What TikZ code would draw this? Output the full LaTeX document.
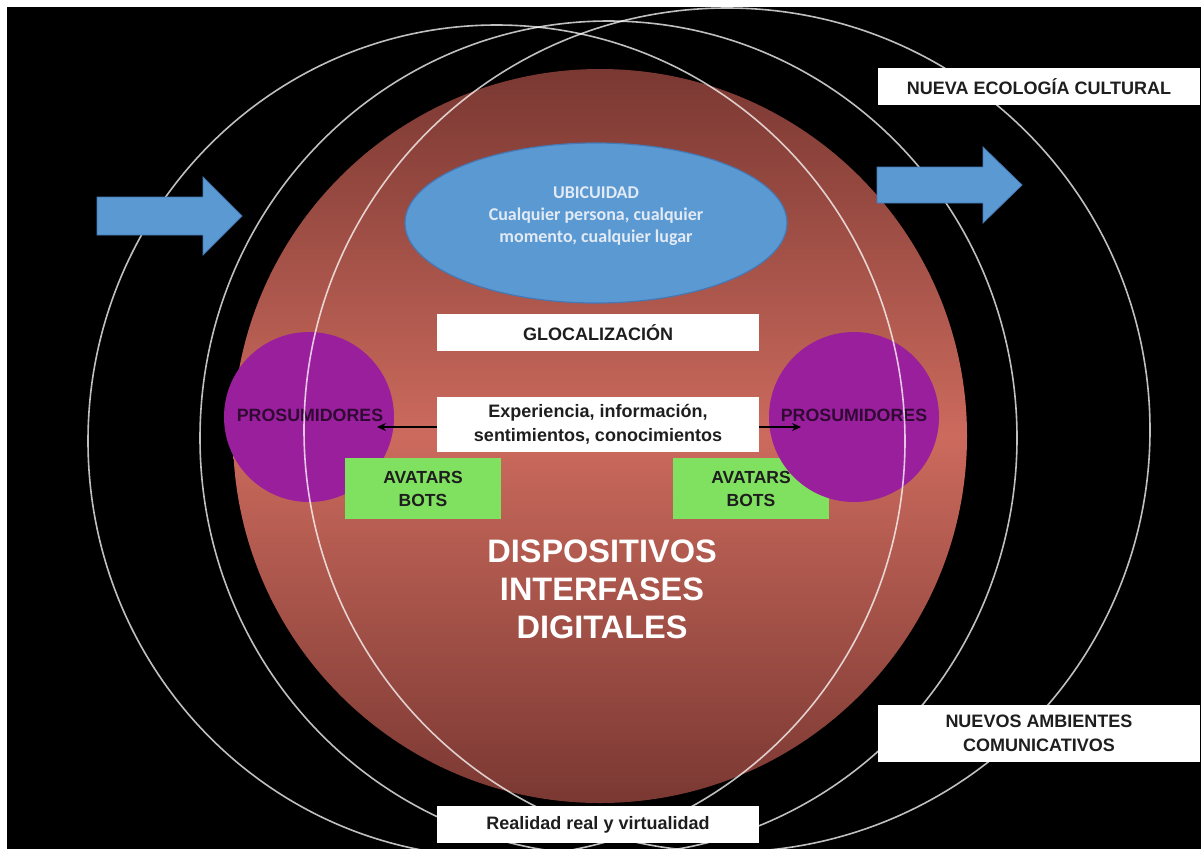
\documentclass[tikz,border=0pt]{standalone}
\usepackage{fontspec}
\setmainfont{Liberation Sans}
\newfontfamily\calib{Carlito}
\usetikzlibrary{shapes.geometric,arrows.meta}
\definecolor{sphdark}{RGB}{122,56,50}
\definecolor{sphlight}{RGB}{204,106,93}
\definecolor{bluefill}{RGB}{91,153,211}
\definecolor{blueedge}{RGB}{70,120,180}
\definecolor{ubtext}{RGB}{226,234,244}
\definecolor{purp}{RGB}{154,31,156}
\definecolor{grn}{RGB}{128,224,96}
\definecolor{boxtext}{RGB}{30,30,30}
\definecolor{prostext}{RGB}{48,10,52}
\begin{document}
\begin{tikzpicture}[x=1pt,y=-1pt,
  wbox/.style={fill=white, draw=none, inner sep=0pt, minimum width=322pt, align=center,
    text=boxtext, font=\bfseries\fontsize{18}{23.5}\selectfont},
  gbox/.style={fill=grn, draw=none, inner sep=0pt, minimum width=156pt, minimum height=61pt,
    align=center, text=boxtext, font=\bfseries\fontsize{17.5}{23}\selectfont},
  pcirc/.style={circle, fill=purp, draw=none, minimum size=170pt, inner sep=0pt},
  ptext/.style={text=prostext, font=\bfseries\fontsize{17.8}{20}\selectfont, inner sep=0pt},
  ring/.style={draw=white, draw opacity=0.75, line width=1.6pt},
  barrow/.style={fill=bluefill, draw=blueedge, line width=0.8pt},
  conn/.style={draw=black, line width=1.2pt, -{Stealth[length=9pt,width=8pt]}}
]
\useasboundingbox (0,0) rectangle (1204,852);
\fill[white] (0,0) rectangle (1204,852);
\fill[black] (7,7) rectangle (1201,849);
% sphere
\shade[top color=sphdark, bottom color=sphdark, middle color=sphlight]
  (600,436) circle[radius=367];
% ubiquity ellipse
\node[ellipse, fill=bluefill, draw=blueedge, line width=1.2pt, minimum width=382pt,
  minimum height=160pt, inner sep=0pt] (ubi) at (596,223) {};
\node[text=ubtext, align=center, font=\calib\bfseries\fontsize{18}{22}\selectfont]
  (ubitext) at (596,216) {UBICUIDAD\\Cualquier persona, cualquier\\momento, cualquier lugar};
% prosumers and avatars
\node[pcirc] (lp) at (309,417) {};
\node[ptext] (lptext) at (310,415) {PROSUMIDORES};
\node[gbox] (lg) at (423,488.5) {AVATARS\\BOTS};
\node[gbox] (rg) at (751,488.5) {};
\node[pcirc] (rp) at (854,417) {};
\node[ptext] (rptext) at (854,415) {PROSUMIDORES};
\node[align=center, text=boxtext, font=\bfseries\fontsize{17.5}{23}\selectfont]
  (rgtext) at (rg.center) {AVATARS\\BOTS};
% main title
\node[align=center, text=white, font=\bfseries\fontsize{32.5}{38}\selectfont]
  (title) at (602,589) {DISPOSITIVOS\\INTERFASES\\DIGITALES};
% rings
\draw[ring] (496.5,441) ellipse[x radius=408.5, y radius=416];
\draw[ring] (608.5,438) ellipse[x radius=408.5, y radius=417];
\draw[ring] (727,430) ellipse[x radius=423, y radius=422];
% white boxes
\node[wbox, minimum height=37pt] (glo) at (598,332.5) {GLOCALIZACIÓN};
\node[wbox, minimum height=55pt] (exp) at (598,424.5) {Experiencia, información,\\sentimientos, conocimientos};
\node[wbox, minimum height=37pt] (rea) at (598,824.5) {Realidad real y virtualidad};
\node[wbox, minimum height=37pt] (nec) at (1039,86.5) {NUEVA ECOLOGÍA CULTURAL};
\node[wbox, minimum height=57pt] (nam) at (1039,733.5) {NUEVOS AMBIENTES\\COMUNICATIVOS};
% connectors
\coordinate (ltip) at (377,427);
\coordinate (rtip) at (801,427);
\draw[conn] (exp.west |- ltip) -- (ltip);
\draw[conn] (exp.east |- rtip) -- (rtip);
% blue arrows
\draw[barrow] (97,197) -- (203,197) -- (203,177) -- (242,216) -- (203,255) -- (203,235) -- (97,235) -- cycle;
\draw[barrow] (877,167) -- (983,167) -- (983,147) -- (1022,185) -- (983,223) -- (983,203) -- (877,203) -- cycle;
\end{tikzpicture}
\end{document}
